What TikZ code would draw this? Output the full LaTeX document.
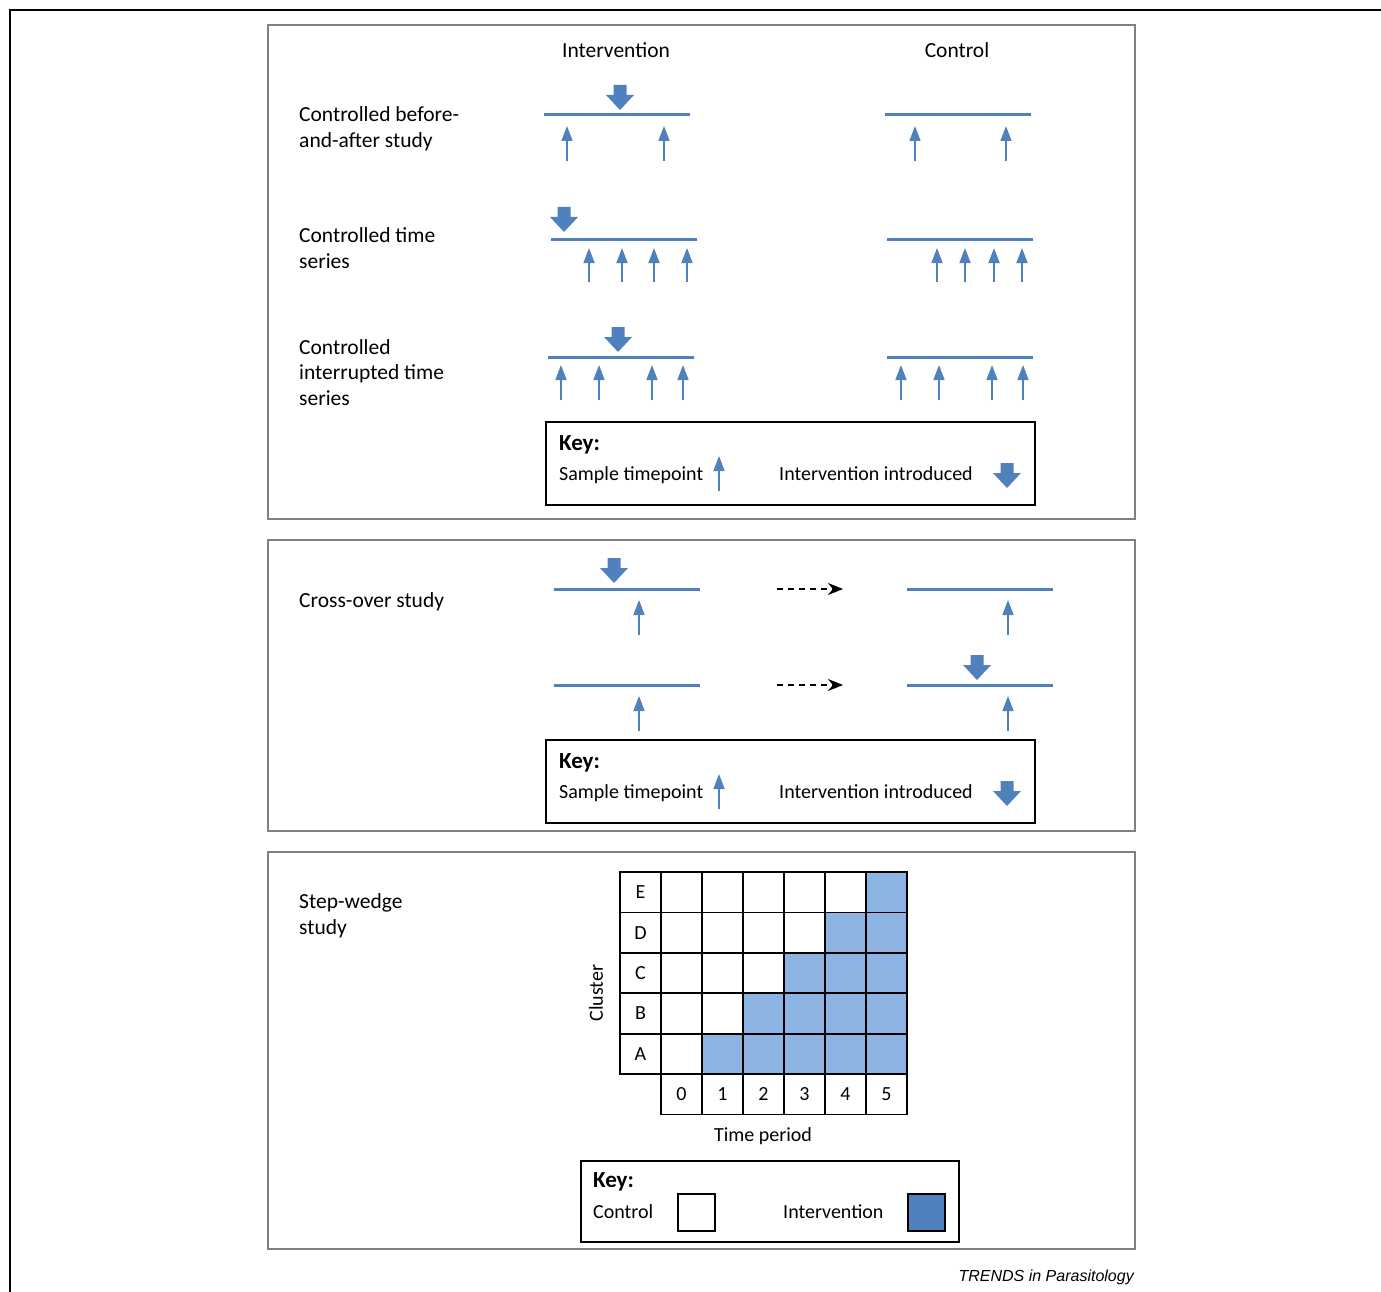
\documentclass[tikz,border=0pt]{standalone}
\usepackage{fontspec}
\setmainfont{Carlito}
\newfontfamily\trendsfont{Liberation Sans}
\usetikzlibrary{arrows.meta}
\definecolor{lineblue}{HTML}{4F81BD}
\definecolor{cellblue}{HTML}{8DB3E2}
\definecolor{framegray}{HTML}{7F7F7F}

\begin{document}
\begin{tikzpicture}[x=1pt, y=-1pt, font=\fontsize{20}{25.5}\selectfont,
  txt/.style = {inner sep=0pt, anchor=base west, align=left},
  big/.style = {font=\fontsize{21.5}{25.5}\selectfont},
  keyhead/.style = {txt, font=\fontsize{23}{25.5}\selectfont\bfseries},
  head/.style = {inner sep=0pt, anchor=base, big},
  timeline/.style = {lineblue, line width=3pt},
  sample/.style = {lineblue, line width=1.6pt, -{Triangle[length=15pt,width=11pt]}},
  panel/.style = {framegray, line width=1.3pt},
  keybox/.style = {draw=black, line width=1.3pt},
  swap/.style = {dash pattern=on 6pt off 5pt, line width=1.3pt, -{Stealth[length=15pt,width=12pt]}},
  cell/.style = {draw, line width=1.8pt, minimum width=41pt, minimum height=40.4pt, inner sep=0pt},
  intarrow/.pic = {\fill[lineblue] (0,0) -- (-14,-15) -- (-6.5,-15) -- (-6.5,-25) -- (6.5,-25) -- (6.5,-15) -- (14,-15) -- cycle;}]
\useasboundingbox (0,0) rectangle (1381,1292);

% outer frame and panels
\draw[line width=1.3pt] (10,1292) -- (10,10) -- (1381,10);
\draw[panel] (268,25) rectangle (1135,519);
\draw[panel] (268,540) rectangle (1135,831);
\draw[panel] (268,852) rectangle (1135,1249);

% panel 1
\node[head] (int) at (616,58) {Intervention};
\node[head] (ctl) at (957,58) {Control};

\node[txt, big] (cba) at (299,147.5) {Controlled before-\\and-after study};
\draw[timeline] (544,115) -- (690,115);
\pic at (620,110) {intarrow};
\draw[sample] (567,161) -- (567,126);
\draw[sample] (664,161) -- (664,126);
\draw[timeline] (885,115) -- (1031,115);
\draw[sample] (915,161) -- (915,126);
\draw[sample] (1006,161) -- (1006,126);

\node[txt, big] (cts) at (299,268.5) {Controlled time\\series};
\draw[timeline] (551,239) -- (697,239);
\pic at (564,232) {intarrow};
\draw[sample] (589,282) -- (589,248);
\draw[sample] (622,282) -- (622,248);
\draw[sample] (654,282) -- (654,248);
\draw[sample] (687,282) -- (687,248);
\draw[timeline] (887,239) -- (1033,239);
\draw[sample] (937,282) -- (937,248);
\draw[sample] (965,282) -- (965,248);
\draw[sample] (994,282) -- (994,248);
\draw[sample] (1022,282) -- (1022,248);

\node[txt, big] (cits) at (299,405) {Controlled\\interrupted time\\series};
\draw[timeline] (548,357) -- (694,357);
\pic at (618,352) {intarrow};
\draw[sample] (561,400) -- (561,365);
\draw[sample] (599,400) -- (599,365);
\draw[sample] (652,400) -- (652,365);
\draw[sample] (683,400) -- (683,365);
\draw[timeline] (887,357) -- (1033,357);
\draw[sample] (901,400) -- (901,365);
\draw[sample] (939,400) -- (939,365);
\draw[sample] (992,400) -- (992,365);
\draw[sample] (1023,400) -- (1023,365);

\draw[keybox] (546,422) rectangle (1035,505);
\node[keyhead] (key1) at (559,450) {Key:};
\node[txt] (st1) at (559,480) {Sample timepoint};
\draw[sample] (719,491) -- (719,456);
\node[txt] (ii1) at (779,480) {Intervention introduced};
\pic at (1007,488) {intarrow};

% panel 2
\node[txt, big] (cross) at (299,607) {Cross-over study};
\draw[timeline] (554,589) -- (700,589);
\pic at (614,583) {intarrow};
\draw[sample] (639,635) -- (639,600);
\coordinate (s1) at (777,589);
\coordinate (e1) at (843,589);
\draw[swap] (s1) -- (e1);
\draw[timeline] (907,589) -- (1053,589);
\draw[sample] (1008,635) -- (1008,600);

\draw[timeline] (554,685) -- (700,685);
\draw[sample] (639,731) -- (639,696);
\coordinate (s2) at (777,685);
\coordinate (e2) at (843,685);
\draw[swap] (s2) -- (e2);
\draw[timeline] (907,685) -- (1053,685);
\pic at (977,680) {intarrow};
\draw[sample] (1008,731) -- (1008,696);

\draw[keybox] (546,740) rectangle (1035,823);
\node[keyhead] (key2) at (559,768) {Key:};
\node[txt] (st2) at (559,798) {Sample timepoint};
\draw[sample] (719,809) -- (719,774);
\node[txt] (ii2) at (779,798) {Intervention introduced};
\pic at (1007,806) {intarrow};

% panel 3
\node[txt, big] (sw) at (299,934) {Step-wedge\\study};
\foreach \lab [count=\i] in {A,B,C,D,E}{
  \node[cell] (r\lab) at (640.5,{1094.2-\i*40.4}) {\lab};
  \foreach \c in {0,...,5}{
    \ifnum\c<\i \def\cellfill{white}\else\def\cellfill{cellblue}\fi
    \node[cell, fill=\cellfill] (g\lab\c) at ({681.5+41*\c},{1094.2-\i*40.4}) {};
  }
}
\foreach \c in {0,...,5}
  \node[cell] (t\c) at ({681.5+41*\c},1094.2) {\c};
\node[rotate=90] (cluster) at (596,993) {Cluster};
\node (tperiod) at (763,1136) {Time period};

\draw[keybox] (581,1161) rectangle (959,1242);
\node[keyhead] (key3) at (593,1187) {Key:};
\node[txt] (kc) at (593,1218) {Control};
\node[draw, line width=1.3pt, minimum size=37pt, inner sep=0pt] (kcbox) at (696.5,1212.5) {};
\node[txt] (ki) at (783,1218) {Intervention};
\node[draw, line width=1.3pt, fill=lineblue, minimum size=37pt, inner sep=0pt] (kibox) at (926.5,1212.5) {};

\node[inner sep=0pt, anchor=base east, font=\trendsfont\itshape\fontsize{16}{18}\selectfont] (trends) at (1134,1281) {TRENDS in Parasitology};
\end{tikzpicture}
\end{document}
